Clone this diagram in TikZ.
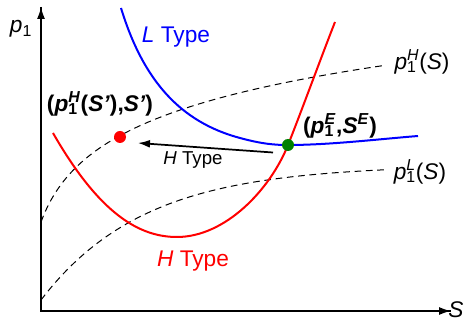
\documentclass[tikz,border=0pt]{standalone}
\usepackage{fontspec}
\setmainfont{Liberation Sans}
\usetikzlibrary{arrows.meta}
\newcommand{\SupSub}[2]{\setbox0\hbox{\textsuperscript{#1}}\setbox2\hbox{\textsubscript{#2}}\ifdim\wd0>\wd2 \rlap{\box2}\box0\else\rlap{\box0}\box2\fi}
\newcommand{\pone}[1]{\textit{p}\SupSub{\textit{#1}}{1}}
\tikzset{
  axis/.style={line width=1.2pt,-{Latex[length=9pt,width=6pt]}},
  guide/.style={line width=0.75pt,dash pattern=on 5pt off 3.5pt},
  htype/.style={red,line width=1.5pt},
  ltype/.style={blue,line width=1.5pt},
  lab/.style={font=\fontsize{17}{20}\selectfont,inner sep=0pt},
  dot/.style={circle,minimum size=9pt,inner sep=0pt},
  move/.style={line width=1.3pt,-{Latex[length=9pt,width=6pt]}}
}
\begin{document}
\begin{tikzpicture}[x=0.75pt,y=-0.75pt]
\useasboundingbox (0,0) rectangle (468,320);
% axes
\coordinate (O) at (41,311);
\coordinate (ytop) at (41,7);
\coordinate (xend) at (451,311);
\draw[line width=1.2pt] (ytop) -- (O) -- (xend);
\draw[axis] (O) -- (ytop);
\draw[axis] (O) -- (xend);
\node[lab] (yl) at (21,29) {\textit{p}\textsubscript{1}};
\node[lab] (xl) at (456,310) {\textit{S}};
% dashed guides
\draw[guide] plot[domain=0:344,samples=120,smooth] ({41+\x},{222-54*ln(1+\x/20)});
\draw[guide] plot[domain=0:344,samples=120,smooth] ({41+\x},{300-135*(1-exp(-\x/103))});
% H type curve
\draw[htype] (53,133) .. controls (100,215) and (140,237) .. (177,237)
  .. controls (225,237) and (270,190) .. (288,145)
  .. controls (300,115) and (322,55) .. (335,22);
% L type curve
\draw[ltype] (121,8) .. controls (143,80) and (180,122) .. (240,138)
  .. controls (262,144) and (275,145) .. (288,145)
  .. controls (330,145) and (380,139) .. (418,136);
% points
\node[dot,fill=red] (hp) at (120,137) {};
\node[dot,fill=black!50!green] (ep) at (288,145) {};
\draw[move] (273,152.5) -- (138,143);
% labels
\node[lab] (ltl) at (176,37) {\color{blue}\textit{L} Type};
\node[lab] (htl) at (193,261) {\color{red}\textit{H} Type};
\node[inner sep=0pt,font=\fontsize{14}{16}\selectfont] (arl) at (193,160) {\textit{H} Type};
\node[lab,font=\fontsize{17}{20}\selectfont\bfseries] (hpl) at (100,104) {(\pone{H}(\textit{S\textquoteright}),\textit{S\textquoteright})};
\node[lab,font=\fontsize{17}{20}\selectfont\bfseries] (epl) at (340,126) {(\pone{E},\textit{S}\textsuperscript{\textit{E}})};
\node[lab] (phl) at (422,62) {\pone{H}(\textit{S})};
\node[lab] (pll) at (420,172) {\pone{L}(\textit{S})};
\end{tikzpicture}
\end{document}
